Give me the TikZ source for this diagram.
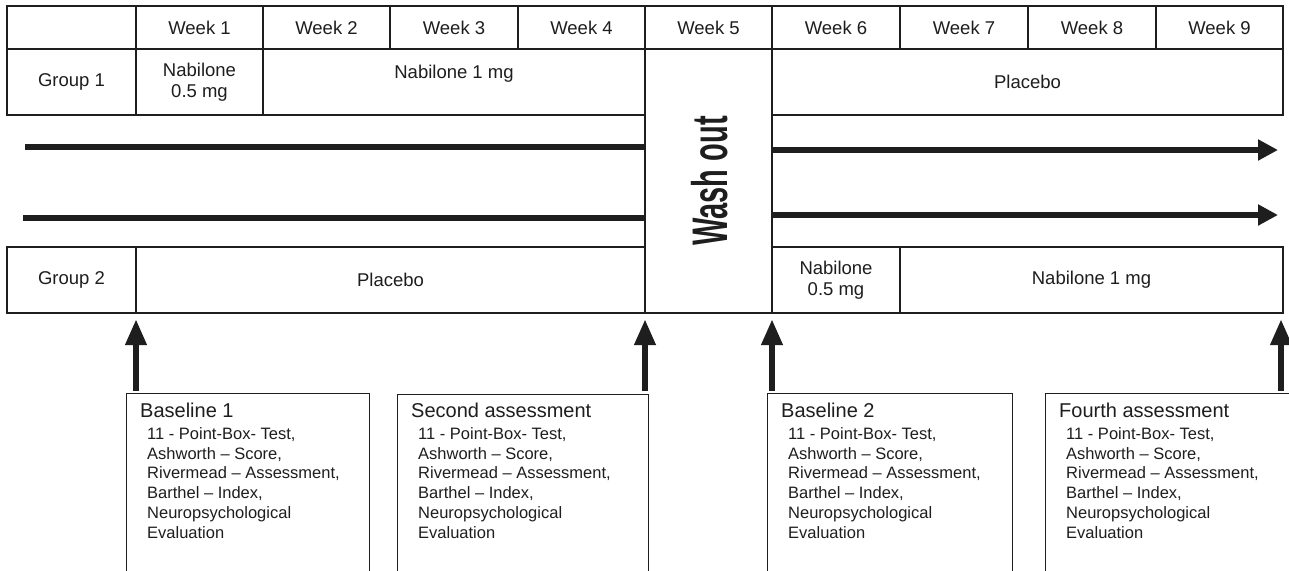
\documentclass[tikz,border=0pt]{standalone}
\usepackage{fontspec}
\usepackage{graphicx}
\setmainfont{Liberation Sans}
\usetikzlibrary{arrows.meta}
\definecolor{ink}{HTML}{1E1E1E}
\newcommand\fsTab{\fontsize{18.5}{21}\selectfont}
\newcommand\fsTitle{\fontsize{20}{24}\selectfont}
\newcommand\fsItem{\fontsize{16.5}{19.8}\selectfont}
\newcommand\fsWash{\fontsize{50}{50}\selectfont\bfseries}
\newcommand\cellbox[6]{\node[cell, minimum width={#4-#2}, minimum height={#5-#3}] (#1) at ({(#2+#4)/2},{(#3+#5)/2}) {#6};}
\newcommand\assessbox[5]{%
  \node[abox, minimum width=#3] (#1) at (#2,#5) {};
  \node[atitle] (#1-title) at ({#2+14},417) {#4};
  \foreach \itm [count=\i] in {{11 - Point-Box- Test,},{Ashworth – Score,},{Rivermead – Assessment,},{Barthel – Index,},{Neuropsychological},{Evaluation}}
    {\node[aitem] (#1-l\i) at ({#2+21},{419.5+19.8*\i}) {\itm};}
}
\begin{document}
\begin{tikzpicture}[x=1pt,y=-1pt,
  cell/.style={draw=ink, line width=1.3, inner sep=0, text=ink, font=\fsTab, align=center},
  abox/.style={draw=ink, line width=1.3, anchor=north west, inner sep=0, minimum height=250},
  atitle/.style={anchor=base west, inner sep=0, text=ink, font=\fsTitle},
  aitem/.style={anchor=base west, inner sep=0, text=ink, font=\fsItem},
  hbar/.style={line width=6.5, draw=ink},
  harrow/.style={hbar, -{Triangle[length=20pt,width=20pt]}, color=ink},
  varrow/.style={hbar, -{Triangle[length=26pt,width=20pt]}, color=ink}]
\path[use as bounding box] (0,0) rectangle (1289,570);
\clip (0,0) rectangle (1289,570);
\fill[white] (0,0) rectangle (1289,570);
% header row
\cellbox{h0}{7}{6}{136}{49}{}
\cellbox{h1}{136}{6}{263}{49}{Week 1}
\cellbox{h2}{263}{6}{390}{49}{Week 2}
\cellbox{h3}{390}{6}{518}{49}{Week 3}
\cellbox{h4}{518}{6}{645}{49}{Week 4}
\cellbox{h5}{645}{6}{772}{49}{Week 5}
\cellbox{h6}{772}{6}{900}{49}{Week 6}
\cellbox{h7}{900}{6}{1028}{49}{Week 7}
\cellbox{h8}{1028}{6}{1156}{49}{Week 8}
\cellbox{h9}{1156}{6}{1283}{49}{Week 9}
% group 1
\cellbox{g1a}{7}{49}{136}{115}{Group 1}
\cellbox{g1b}{136}{49}{263}{115}{Nabilone\\0.5 mg}
\cellbox{g1c}{263}{49}{645}{115}{Nabilone 1 mg\\\mbox{}}
\cellbox{g1d}{772}{49}{1283}{115}{Placebo}
% wash out
\cellbox{washout}{645}{49}{772}{313}{}
\node[rotate=90, inner sep=0, text=ink, font=\fsWash] (washtext) at ([xshift=1.5pt]washout.center) {\scalebox{0.58}[1]{Wash out}};
% group 2
\cellbox{g2a}{7}{247}{136}{313}{Group 2}
\cellbox{g2b}{136}{247}{645}{313}{Placebo}
\cellbox{g2c}{772}{247}{900}{313}{Nabilone\\0.5 mg}
\cellbox{g2d}{900}{247}{1283}{313}{Nabilone 1 mg}
% horizontal arrows
\coordinate (ua) at (25,147);
\coordinate (la) at (23,218);
\coordinate (ub) at (772,150);
\coordinate (lb) at (772,215);
\coordinate (ue) at (1278,150);
\coordinate (le) at (1278,215);
\draw[hbar] (ua) -- (washout.west |- ua);
\draw[hbar] (la) -- (washout.west |- la);
\draw[harrow] (washout.east |- ub) -- (ue);
\draw[harrow] (washout.east |- lb) -- (le);
% assessment boxes
\assessbox{b1}{126}{243}{Baseline 1}{393}
\assessbox{b2}{397}{251}{Second assessment}{394}
\assessbox{b3}{767}{245}{Baseline 2}{393}
\assessbox{b4}{1045}{260}{Fourth assessment}{393}
% vertical arrows
\coordinate (v1b) at (136,391); \coordinate (v1t) at (136,319);
\coordinate (v2b) at (645,391); \coordinate (v2t) at (645,319);
\coordinate (v3b) at (772,391); \coordinate (v3t) at (772,319);
\coordinate (v4b) at (1281,391); \coordinate (v4t) at (1281,319);
\draw[varrow] (v1b) -- (v1t);
\draw[varrow] (v2b) -- (v2t);
\draw[varrow] (v3b) -- (v3t);
\draw[varrow] (v4b) -- (v4t);
\end{tikzpicture}
\end{document}
